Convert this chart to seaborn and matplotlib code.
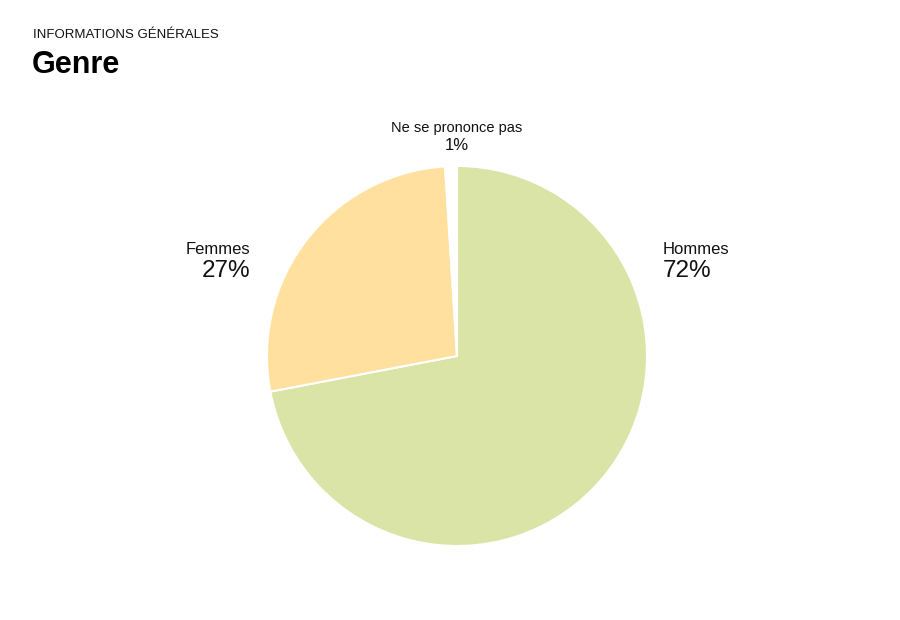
import matplotlib
matplotlib.use("Agg")
import matplotlib.pyplot as plt
import seaborn as sns

sns.set_theme(style="white")
plt.rcParams['font.family'] = ['Liberation Sans', 'DejaVu Sans']

categories = ["Hommes", "Femmes", "Ne se prononce pas"]
values = [72, 27, 1]
pct_labels = ["72%", "27%", "1%"]
colors = ["#dae4a6", "#ffe09e", "#ffffff"]

W, H = 900, 620
fig = plt.figure(figsize=(W / 100, H / 100), dpi=100)
fig.patch.set_facecolor("white")

cx, cy, r = 457, 356, 190
ax = fig.add_axes([(cx - r) / W, (H - cy - r) / H, 2 * r / W, 2 * r / H])
ax.pie(values, colors=colors, startangle=90, counterclock=False, radius=1,
       wedgeprops=dict(edgecolor="white", linewidth=1.5))
ax.set_xlim(-1, 1)
ax.set_ylim(-1, 1)
ax.set_aspect("equal")
ax.axis("off")

# labels
ax.text(1.084, 0.563, categories[0], ha="left", va="center", fontsize=12, color="#111111", clip_on=False)
ax.text(1.084, 0.447, pct_labels[0], ha="left", va="center", fontsize=17.5, color="#111111", clip_on=False)
ax.text(-1.09, 0.563, categories[1], ha="right", va="center", fontsize=12, color="#111111", clip_on=False)
ax.text(-1.09, 0.447, pct_labels[1], ha="right", va="center", fontsize=17.5, color="#111111", clip_on=False)
ax.text(0, 1.2, categories[2], ha="center", va="center", fontsize=10.5, color="#111111", clip_on=False)
ax.text(0, 1.11, pct_labels[2], ha="center", va="center", fontsize=12, color="#111111", clip_on=False)

fig.text(33 / W, 1 - 35 / H, "INFORMATIONS GÉNÉRALES", ha="left", va="center", fontsize=9.5, color="#111111")
fig.text(32 / W, 1 - 65 / H, "Genre", ha="left", va="center", fontsize=22, fontweight="bold", color="black")

fig.savefig("out.png", dpi=100, facecolor="white")
